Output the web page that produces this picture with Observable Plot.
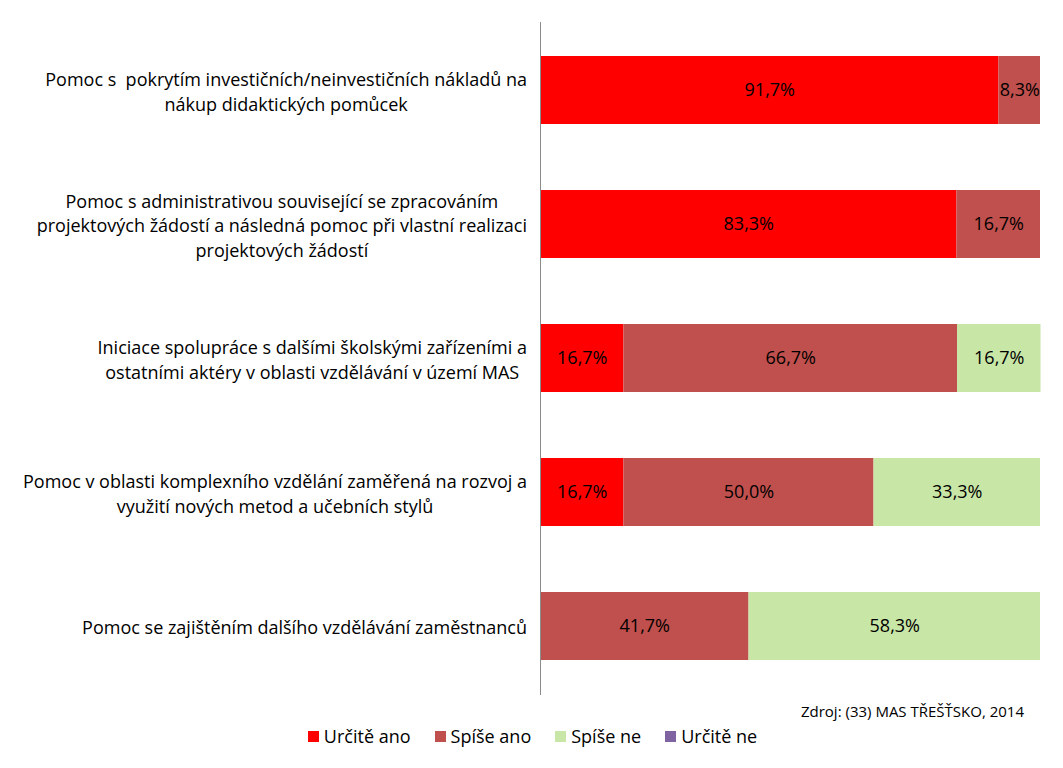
<!DOCTYPE html>
<html><head><meta charset="utf-8">
<script src="https://cdn.jsdelivr.net/npm/d3@7"></script>
<script src="https://cdn.jsdelivr.net/npm/@observablehq/plot@0.6"></script>
<style>
body{margin:0;background:#fff;font-family:"Open Sans","Noto Sans",sans-serif;color:#000}
#source{height:22px;line-height:22px;text-align:right;padding-right:39px;font-size:15px}
#legend{display:flex;justify-content:center;gap:24px;font-size:18px;height:28px;align-items:center;padding-left:2px}
#legend .it{display:flex;align-items:center;gap:5px}
#legend .sw{width:11px;height:11px;display:inline-block}
</style>
</head><body>
<div id="chart"></div>
<div id="source"></div>
<div id="legend"></div>
<script>
const categories = [
  "Pomoc s  pokrytím investičních/neinvestičních nákladů na\nnákup didaktických pomůcek",
  "Pomoc s administrativou související se zpracováním\nprojektových žádostí a následná pomoc při vlastní realizaci\nprojektových žádostí",
  "Iniciace spolupráce s dalšími školskými zařízeními a\nostatními aktéry v oblasti vzdělávání v území MAS",
  "Pomoc v oblasti komplexního vzdělání zaměřená na rozvoj a\nvyužití nových metod a učebních stylů",
  "Pomoc se zajištěním dalšího vzdělávání zaměstnanců"
];
const seriesNames = ["Určitě ano", "Spíše ano", "Spíše ne", "Určitě ne"];
const seriesColors = ["#FF0000", "#C0504D", "#C8E6A6", "#8064A2"];
const urciteAno = [91.7, 83.3, 16.7, 16.7, 0];
const spiseAno = [8.3, 16.7, 66.7, 50.0, 41.7];
const spiseNe = [0, 0, 16.7, 33.3, 58.3];
const urciteNe = [0, 0, 0, 0, 0];
const sourceText = "Zdroj: (33) MAS TŘEŠŤSKO, 2014";

const seriesValues = [urciteAno, spiseAno, spiseNe, urciteNe];
const rows = [];
categories.forEach((cat, i) => {
  seriesNames.forEach((s, j) => rows.push({cat, series: s, value: seriesValues[j][i]}));
});
const fmt = v => v.toFixed(1).replace(".", ",") + "%";
const FONT = "'Open Sans', 'Noto Sans', sans-serif";

const chart = Plot.plot({
  width: 1063, height: 700,
  marginLeft: 540, marginRight: 23, marginTop: 22, marginBottom: 5,
  x: {domain: [0, 100], axis: null},
  y: {domain: categories, paddingInner: 0.49, paddingOuter: 0.245, axis: null},
  color: {domain: seriesNames, range: seriesColors},
  style: {fontFamily: FONT, fontSize: "18px", color: "#000", background: "#fff"},
  marks: [
    Plot.barX(rows, Plot.stackX({x: "value", y: "cat", fill: "series", order: seriesNames})),
    Plot.text(rows.filter(d => d.value > 0), Plot.stackX({
      x: "value", y: "cat", z: "series", order: seriesNames,
      text: d => fmt(d.value), fill: "#000", fontSize: 18
    })),
    Plot.ruleX([0], {stroke: "#8c8c8c", strokeWidth: 1}),
    Plot.text(categories, {
      y: d => d, text: d => d, frameAnchor: "left", textAnchor: "middle",
      dx: -270, lineHeight: 24.5 / 18, fontSize: 18, fill: "#000"
    })
  ]
});
document.getElementById("chart").appendChild(chart);

document.getElementById("source").textContent = sourceText;
const legend = document.getElementById("legend");
seriesNames.forEach((s, j) => {
  const it = document.createElement("div");
  it.className = "it";
  const sw = document.createElement("span");
  sw.className = "sw";
  sw.style.background = seriesColors[j];
  const t = document.createElement("span");
  t.textContent = s;
  it.appendChild(sw); it.appendChild(t);
  legend.appendChild(it);
});

// right-align each label block (lines centered within it) next to the axis
function alignLabels() {
  const rightEdge = 527;
  const groups = chart.querySelectorAll('g[aria-label="text"]');
  const g = groups[groups.length - 1];
  const svgLeft = chart.getBoundingClientRect().left;
  g.querySelectorAll("text").forEach(el => {
    el.style.whiteSpace = "pre";
    if (el.dataset.base === undefined) el.dataset.base = el.getAttribute("transform") || "";
    el.setAttribute("transform", el.dataset.base);
    const r = el.getBoundingClientRect();
    const shift = rightEdge - (r.right - svgLeft);
    el.setAttribute("transform", `translate(${shift},0) ` + el.dataset.base);
  });
}
alignLabels();
if (document.fonts && document.fonts.ready) document.fonts.ready.then(alignLabels);
</script>
</body></html>
